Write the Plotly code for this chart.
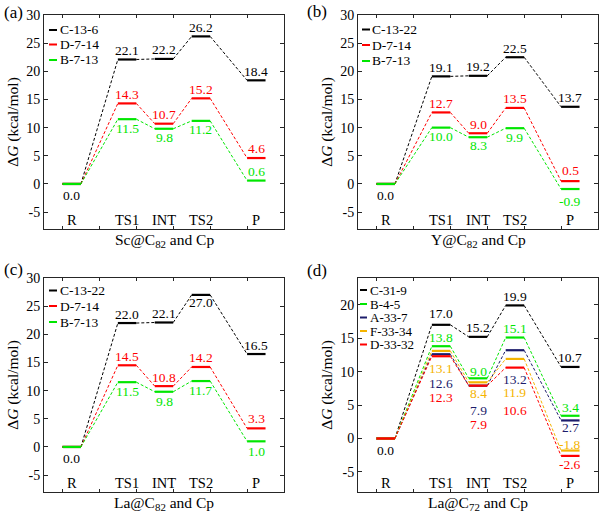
import plotly.graph_objects as go

W, H = 602, 518
FONT = "Liberation Serif, Times New Roman, serif"

# ---------------- data ----------------
STATES = ["R", "TS1", "INT", "TS2", "P"]

A_NAMES = ["C-13-6", "D-7-14", "B-7-13"]
A_C = [0.0, 22.1, 22.2, 26.2, 18.4]
A_D = [0.0, 14.3, 10.7, 15.2, 4.6]
A_B = [0.0, 11.5, 9.8, 11.2, 0.6]

B_NAMES = ["C-13-22", "D-7-14", "B-7-13"]
B_C = [0.0, 19.1, 19.2, 22.5, 13.7]
B_D = [0.0, 12.7, 9.0, 13.5, 0.5]
B_B = [0.0, 10.0, 8.3, 9.9, -0.9]

C_NAMES = ["C-13-22", "D-7-14", "B-7-13"]
C_C = [0.0, 22.0, 22.1, 27.0, 16.5]
C_D = [0.0, 14.5, 10.8, 14.2, 3.3]
C_B = [0.0, 11.5, 9.8, 11.7, 1.0]

D_NAMES = ["C-31-9", "B-4-5", "A-33-7", "F-33-34", "D-33-32"]
D_C = [0.0, 17.0, 15.2, 19.9, 10.7]
D_B = [0.0, 13.8, 9.0, 15.1, 3.4]
D_A = [0.0, 12.6, 7.9, 13.2, 2.7]
D_F = [0.0, 13.1, 8.4, 11.9, -1.8]
D_D = [0.0, 12.3, 7.9, 10.6, -2.6]

Y_TICKS_82 = [-5, 0, 5, 10, 15, 20, 25, 30]
Y_TICKS_72 = [-5, 0, 5, 10, 15, 20]

X_TITLES = ["Sc@C<sub>82</sub> and Cp", "Y@C<sub>82</sub> and Cp",
            "La@C<sub>82</sub> and Cp", "La@C<sub>72</sub> and Cp"]
Y_TITLE = "Δ<i>G</i> (kcal/mol)"
PANEL_TAGS = ["(a)", "(b)", "(c)", "(d)"]

# ---------------- styles / layout ----------------
BLACK, RED, GREEN, NAVY, GOLD = "#000000", "#ff0000", "#00e600", "#1c1c6b", "#f5b400"
LEVEL_START = [0.0, 1.5, 2.5, 3.5, 5.0]
LEVEL_W = 0.5

# label vertical shifts (px) for TS1, INT, TS2, P
panels = [
    dict(series=[(A_NAMES[0], A_C, BLACK, [9, 9, 9, 9]),
                 (A_NAMES[1], A_D, RED, [9, 9, 9, 10]),
                 (A_NAMES[2], A_B, GREEN, [-9, -9, -9, 9])],
         box=(44, 15, 284, 229), yr=[-8, 30], yt=Y_TICKS_82,
         leg=(49, 57, [30, 44.5, 60]), tag=(13.5, 12.5), lfs=13.5),
    dict(series=[(B_NAMES[0], B_C, BLACK, [9, 9, 9, 9]),
                 (B_NAMES[1], B_D, RED, [9, 9, 9, 11]),
                 (B_NAMES[2], B_B, GREEN, [-9, -8, -9, -12])],
         box=(358, 15, 598, 229), yr=[-8, 30], yt=Y_TICKS_82,
         leg=(362, 370, [29.5, 45, 61]), tag=(316.5, 11.5), lfs=13.5),
    dict(series=[(C_NAMES[0], C_C, BLACK, [9, 9, -8, 9]),
                 (C_NAMES[1], C_D, RED, [9, 9, 9, 10]),
                 (C_NAMES[2], C_B, GREEN, [-9, -10, -9, -10])],
         box=(44, 278, 284, 492), yr=[-8, 30], yt=Y_TICKS_82,
         leg=(49, 57, [290.5, 306, 322]), tag=(13, 269.5), lfs=13.5),
    dict(series=[(D_NAMES[0], D_C, BLACK, [11, 9, 9, 9]),
                 (D_NAMES[1], D_B, GREEN, [9, 7, 9, 8]),
                 (D_NAMES[2], D_A, NAVY, [-29, -25, -29, -7]),
                 (D_NAMES[3], D_F, GOLD, [-18, -11, -34, 6]),
                 (D_NAMES[4], D_D, RED, [-41, -39, -43, -9])],
         box=(358, 278, 598, 492), yr=[-8, 24], yt=Y_TICKS_72,
         leg=(360, 367, [290, 304, 317.5, 331, 344.5]), tag=(316.5, 270), lfs=13),
]


def px_x(x):
    return x / W


def px_y(y):
    return 1 - y / H


fig = go.Figure()
annotations = []
shapes = []
layout = {}

for i, p in enumerate(panels):
    k = "" if i == 0 else str(i + 1)
    xa, ya = "x" + k, "y" + k
    x0, y0, x1, y1 = p["box"]
    for j, (name, vals, col, shifts) in enumerate(p["series"]):
        lx, ly, cx, cy = [], [], [], []
        for s, v in zip(LEVEL_START, vals):
            lx += [s, s + LEVEL_W, None]
            ly += [v, v, None]
        for n in range(len(vals) - 1):
            cx += [LEVEL_START[n] + LEVEL_W, LEVEL_START[n + 1], None]
            cy += [vals[n], vals[n + 1], None]
        fig.add_trace(go.Scatter(x=cx, y=cy, mode="lines", xaxis=xa, yaxis=ya,
                                 line=dict(color=col, width=1, dash="3px,2px"),
                                 showlegend=False, hoverinfo="skip"))
        fig.add_trace(go.Scatter(x=lx, y=ly, mode="lines", xaxis=xa, yaxis=ya,
                                 line=dict(color=col, width=2.2), name=name,
                                 showlegend=False))
        # value labels
        for n, v in enumerate(vals):
            if n == 0:
                if j != 0:
                    continue
                sh = -12
            else:
                sh = shifts[n - 1]
            annotations.append(dict(x=LEVEL_START[n] + LEVEL_W / 2, y=v, xref=xa, yref=ya,
                                    text=f"{v:.1f}", showarrow=False, yshift=sh,
                                    font=dict(family=FONT, size=13.5, color=col)))
        # legend entry
        lx0, lx1, lys = p["leg"]
        shapes.append(dict(type="line", xref="paper", yref="paper",
                           x0=px_x(lx0), x1=px_x(lx1), y0=px_y(lys[j]), y1=px_y(lys[j]),
                           line=dict(color=col, width=2)))
        annotations.append(dict(x=px_x(lx1 + 0.5), y=px_y(lys[j]), xref="paper", yref="paper",
                                xanchor="left", yanchor="middle", text=name, showarrow=False,
                                font=dict(family=FONT, size=p["lfs"], color="#000000")))
    # state labels inside plot
    for n, st in enumerate(STATES):
        annotations.append(dict(x=LEVEL_START[n] + LEVEL_W / 2, y=0, xref=xa,
                                yref=ya + " domain", yanchor="bottom", yshift=-1,
                                text=st, showarrow=False,
                                font=dict(family=FONT, size=14.5, color="#000000")))
    # x title
    annotations.append(dict(x=0.5, y=0, xref=xa + " domain", yref=ya + " domain",
                            xanchor="center", yanchor="top", yshift=0,
                            text=X_TITLES[i], showarrow=False,
                            font=dict(family=FONT, size=15.5, color="#000000")))
    # panel tag
    tx, ty = p["tag"]
    annotations.append(dict(x=px_x(tx), y=px_y(ty), xref="paper", yref="paper",
                            xanchor="center", yanchor="middle",
                            text=PANEL_TAGS[i], showarrow=False,
                            font=dict(family=FONT, size=17, color="#000000")))
    axis_common = dict(showline=True, linecolor="#262626", linewidth=1, mirror="ticks",
                       ticks="inside", tickcolor="#262626", showgrid=False, zeroline=False,
                       automargin=False)
    layout["xaxis" + k] = dict(domain=[px_x(x0), px_x(x1)], range=[-0.5, 6],
                               anchor=ya, tickvals=list(range(7)), ticklen=3,
                               showticklabels=False, **axis_common)
    layout["yaxis" + k] = dict(domain=[px_y(y1), px_y(y0)], range=p["yr"], anchor=xa,
                               tickvals=p["yt"], ticktext=[str(t) for t in p["yt"]],
                               ticklen=4,
                               tickfont=dict(family=FONT, size=14, color="#000000"),
                               title=dict(text=Y_TITLE, standoff=3,
                                          font=dict(family=FONT, size=15.5, color="#000000")),
                               **axis_common)

fig.update_layout(template="none", width=W, height=H,
                  margin=dict(l=0, r=0, t=0, b=0, autoexpand=False),
                  paper_bgcolor="white", plot_bgcolor="white",
                  font=dict(family=FONT, color="#000000"),
                  annotations=annotations, shapes=shapes, showlegend=False, **layout)
fig.write_html("out.html", config={"displayModeBar": False},
               post_script="document.body.style.margin='0px';document.body.style.overflow='hidden';")
